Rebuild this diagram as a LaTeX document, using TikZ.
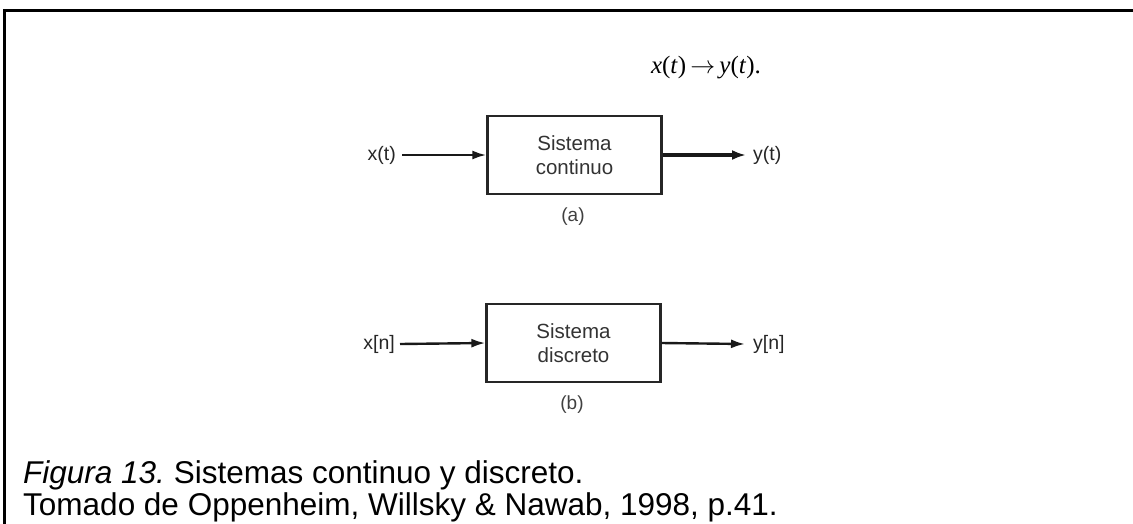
\documentclass[tikz,border=0pt]{standalone}
\usepackage{fontspec}
\setmainfont{Liberation Sans}
\newfontfamily\timesfont{Liberation Serif}
\usetikzlibrary{arrows.meta}
\frenchspacing
\tikzset{
  frameline/.style={line width=2.6pt, black},
  sysbox/.style={draw=black!85, line width=2.2pt, minimum width=174pt, minimum height=78pt,
    align=center, font=\fontsize{20.5}{24}\selectfont, text=black!80},
  siglabel/.style={font=\fontsize{19.5}{22}\selectfont, text=black!85},
  sublabel/.style={font=\fontsize{19}{22}\selectfont, text=black!75},
  sigin/.style={draw=black!90, line width=2.4pt, -{Latex[length=14pt,width=9pt]}},
  sigout/.style={draw=black!90, line width=3.2pt, -{Latex[length=14pt,width=10pt]}},
  caption/.style={font=\fontsize{31.5}{36}\selectfont, anchor=base west, inner sep=0pt}
}
\begin{document}
\begin{tikzpicture}[x=1pt,y=-1pt]
  \useasboundingbox (0,0) rectangle (1133,523);
  % open frame: top and left rules
  \coordinate (ftl) at (4.2,10.4);
  \coordinate (ftr) at (1133,10.4);
  \coordinate (fbl) at (4.2,523);
  \draw[frameline, line cap=rect] (ftr) -- (ftl) -- (fbl);

  % input-output relation
  \node[anchor=base, inner sep=0pt, font=\fontsize{25}{30}\timesfont] (rel) at (706,73)
    {\textit{x}(\textit{t})\,$\rightarrow$\,\textit{y}(\textit{t}).};

  % (a) continuous-time system
  \node[sysbox] (boxa) at (574.5,155) {Sistema\\continuo};
  \node[siglabel, anchor=east, inner sep=0pt] (xa) at (396,155) {x(t)};
  \node[siglabel, anchor=west, inner sep=0pt] (ya) at (753,155) {y(t)};
  \draw[sigin] (xa.east) ++(6,0) coordinate (xaend) (xaend) -- (boxa.west);
  \draw[sigout] (boxa.east) -- ([xshift=-7pt]ya.west);
  \node[sublabel] (la) at (573,217) {(a)};

  % (b) discrete-time system
  \node[sysbox] (boxb) at (573.5,343) {Sistema\\discreto};
  \node[siglabel, anchor=east, inner sep=0pt] (xb) at (395,344) {x[n]};
  \node[siglabel, anchor=west, inner sep=0pt] (yb) at (753,344) {y[n]};
  \draw[sigin] (xb.east) ++(5,0) coordinate (xbend) (xbend) -- (boxb.west);
  \draw[sigin] (boxb.east) -- ([xshift=-8pt]yb.west);
  \node[sublabel] (lb) at (572,405) {(b)};

  % caption
  \node[caption] (cap1) at (23,483) {{\itshape Figura 13.} Sistemas continuo y discreto.};
  \node[caption] (cap2) at (23,515) {Tomado de Oppenheim, Willsky \& Nawab, 1998, p.41.};
\end{tikzpicture}
\end{document}
